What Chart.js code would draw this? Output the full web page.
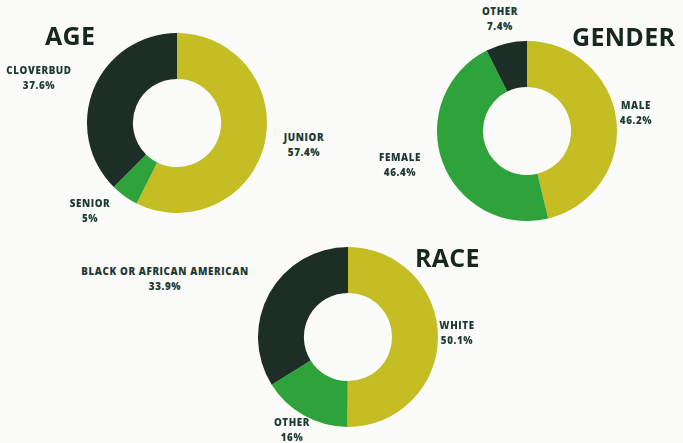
<!DOCTYPE html>
<html>
<head>
<meta charset="utf-8">
<script src="https://cdn.jsdelivr.net/npm/chart.js@4/dist/chart.umd.min.js"></script>
<style>
  html, body { margin: 0; padding: 0; }
  body { width: 683px; height: 443px; background: #fbfbfa; position: relative; overflow: hidden; font-family: "Open Sans", "DejaVu Sans", sans-serif; }
  canvas { position: absolute; }
  .title { position: absolute; font-weight: 700; font-size: 25px; color: #17261f; line-height: 1; letter-spacing: 0.3px; }
  .lbl { position: absolute; font-weight: 800; font-size: 9.8px; letter-spacing: 0.6px; color: #1d3a32; line-height: 15px; text-align: center; transform: translateX(-50%); white-space: nowrap; }
</style>
</head>
<body>
<canvas id="age" width="180" height="180" style="left:87px;top:33px"></canvas>
<canvas id="gender" width="180" height="180" style="left:437px;top:41px"></canvas>
<canvas id="race" width="180" height="180" style="left:258px;top:247px"></canvas>
<div class="title" style="left:45px;top:23px">AGE</div>
<div class="title" style="left:572px;top:24px">GENDER</div>
<div class="title" style="left:415px;top:245px">RACE</div>
<div id="labels"></div>
<script>
// Data
const ageLabels = ["JUNIOR", "SENIOR", "CLOVERBUD"];
const ageValues = [57.4, 5, 37.6];
const genderLabels = ["MALE", "FEMALE", "OTHER"];
const genderValues = [46.2, 46.4, 7.4];
const raceLabels = ["WHITE", "OTHER", "BLACK OR AFRICAN AMERICAN"];
const raceValues = [50.1, 16, 33.9];

const colors = ["#c5bd24", "#2fa33b", "#1c2e26"];

function donut(id, labels, values) {
  new Chart(document.getElementById(id), {
    type: "doughnut",
    data: { labels: labels, datasets: [{ data: values, backgroundColor: colors, borderWidth: 0 }] },
    options: {
      responsive: false, animation: false, cutout: "49%",
      layout: { padding: 0 },
      plugins: { legend: { display: false }, tooltip: { enabled: false } }
    }
  });
}
donut("age", ageLabels, ageValues);
donut("gender", genderLabels, genderValues);
donut("race", raceLabels, raceValues);

// label placement (center x, top y) per segment
const labelPos = {
  age: [[304, 130], [90, 196], [39, 63]],
  gender: [[636, 98], [400, 150], [500, 4]],
  race: [[457, 318], [292, 415], [165, 264]]
};
const box = document.getElementById("labels");
function addLabels(key, labels, values) {
  labels.forEach((l, i) => {
    const d = document.createElement("div");
    d.className = "lbl";
    d.style.left = labelPos[key][i][0] + "px";
    d.style.top = labelPos[key][i][1] + "px";
    d.innerHTML = l + "<br>" + values[i] + "%";
    box.appendChild(d);
  });
}
addLabels("age", ageLabels, ageValues);
addLabels("gender", genderLabels, genderValues);
addLabels("race", raceLabels, raceValues);
</script>
</body>
</html>
